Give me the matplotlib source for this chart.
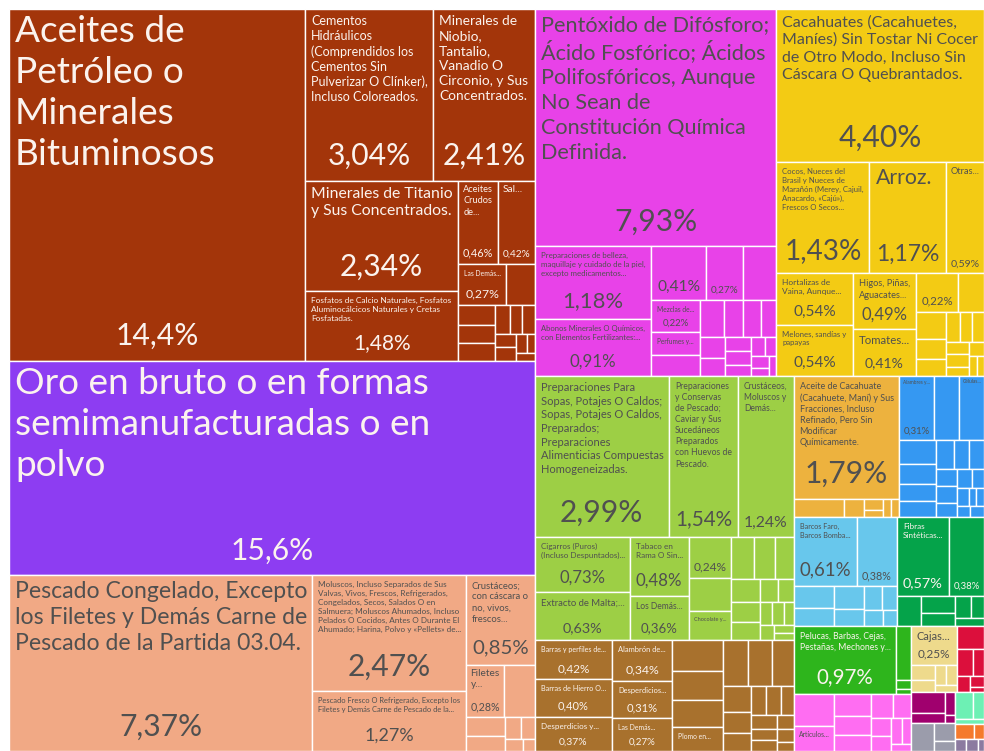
import matplotlib
matplotlib.use("Agg")
import matplotlib.pyplot as plt
from matplotlib.patches import Rectangle

plt.rcParams['font.family'] = ['Lato', 'DejaVu Sans']

# ---- data: shares of exports (%) per section, products sorted by size ----
# None = no label, "" = only the percentage
minerales_values = [14.4, 3.04, 2.41, 2.34, 1.48, 0.46, 0.42, 0.27, 0.16, 0.10,
                    0.09, 0.09, 0.06, 0.05, 0.05, 0.04, 0.04, 0.03, 0.02, 0.02]
minerales_names = ["Aceites de\nPetróleo o\nMinerales\nBituminosos",
                   "Cementos\nHidráulicos\n(Comprendidos los\nCementos Sin\nPulverizar O Clínker),\nIncluso Coloreados.",
                   "Minerales de\nNiobio,\nTantalio,\nVanadio O\nCirconio, y Sus\nConcentrados.",
                   "Minerales de Titanio\ny Sus Concentrados.",
                   "Fosfatos de Calcio Naturales, Fosfatos\nAluminocálcicos Naturales y Cretas\nFosfatadas.",
                   "Aceites\nCrudos\nde...", "Sal...", "Las Demás..."]

oro_values = [15.6]
oro_names = ["Oro en bruto o en formas\nsemimanufacturadas o en\npolvo"]

animales_values = [7.37, 2.47, 1.27, 0.85, 0.28, 0.22, 0.10, 0.08, 0.05, 0.04, 0.03, 0.02]
animales_names = ["Pescado Congelado, Excepto\nlos Filetes y Demás Carne de\nPescado de la Partida 03.04.",
                  "Moluscos, Incluso Separados de Sus\nValvas, Vivos, Frescos, Refrigerados,\nCongelados, Secos, Salados O en\nSalmuera; Moluscos Ahumados, Incluso\nPelados O Cocidos, Antes O Durante El\nAhumado; Harina, Polvo y «Pellets» de...",
                  "Pescado Fresco O Refrigerado, Excepto los\nFiletes y Demás Carne de Pescado de la...",
                  "Crustáceos;\ncon cáscara o\nno, vivos,\nfrescos...",
                  "Filetes\ny..."]

quimicos_values = [7.93, 1.18, 0.91, 0.41, 0.27, 0.25, 0.22, 0.16, 0.14, 0.12, 0.10, 0.09,
                   0.08, 0.07, 0.06, 0.05, 0.05, 0.04, 0.04, 0.03, 0.03, 0.02, 0.02]
quimicos_names = ["Pentóxido de Difósforo;\nÁcido Fosfórico; Ácidos\nPolifosfóricos, Aunque\nNo Sean de\nConstitución Química\nDefinida.",
                  "Preparaciones de belleza,\nmaquillaje y cuidado de la piel,\nexcepto medicamentos...",
                  "Abonos Minerales O Químicos,\ncon Elementos Fertilizantes:...",
                  "", "", None, "Mezclas de...", "Perfumes y...", ""]

vegetales_values = [4.40, 1.43, 1.17, 0.59, 0.54, 0.54, 0.49, 0.41, 0.22, 0.14, 0.11,
                    0.08, 0.07, 0.06, 0.05, 0.05, 0.04, 0.04, 0.03, 0.03, 0.02, 0.02]
vegetales_names = ["Cacahuates (Cacahuetes,\nManíes) Sin Tostar Ni Cocer\nde Otro Modo, Incluso Sin\nCáscara O Quebrantados.",
                   "Cocos, Nueces del\nBrasil y Nueces de\nMarañón (Merey, Cajuil,\nAnacardo, «Cajú»),\nFrescos O Secos...",
                   "Arroz.", "Otras...", "Hortalizas de\nVaina, Aunque...",
                   "Melones, sandías y\npapayas", "Higos, Piñas,\nAguacates...", "Tomates...", ""]

alimentos_values = [2.99, 1.54, 1.24, 0.73, 0.63, 0.48, 0.36, 0.24, 0.20, 0.17, 0.13, 0.12,
                    0.11, 0.09, 0.08, 0.07, 0.06, 0.05, 0.04, 0.04, 0.03, 0.03, 0.02, 0.02]
alimentos_names = ["Preparaciones Para\nSopas, Potajes O Caldos;\nSopas, Potajes O Caldos,\nPreparados;\nPreparaciones\nAlimenticias Compuestas\nHomogeneizadas.",
                   "Preparaciones\ny Conservas\nde Pescado;\nCaviar y Sus\nSucedáneos\nPreparados\ncon Huevos de\nPescado.",
                   "Crustáceos,\nMoluscos y\nDemás...",
                   "Cigarros (Puros)\n(Incluso Despuntados)...",
                   "Extracto de Malta;...", "Tabaco en\nRama O Sin...", "Los Demás...",
                   "", None, "Chocolate y..."]

metales_values = [0.42, 0.40, 0.37, 0.34, 0.31, 0.27, 0.22, 0.20, 0.19, 0.17, 0.16, 0.15, 0.14,
                  0.10, 0.08, 0.07, 0.06, 0.06, 0.05, 0.05, 0.04, 0.04, 0.03, 0.03, 0.02]
metales_names = ["Barras y perfiles de...", "Barras de Hierro O...", "Desperdicios y...",
                 "Alambrón de...", "Desperdicios...", "Las Demás...", None, None, None, "Plomo en..."]

grasas_values = [1.79, 0.13, 0.05, 0.03, 0.02, 0.02, 0.02]
grasas_names = ["Aceite de Cacahuate\n(Cacahuete, Maní) y Sus\nFracciones, Incluso\nRefinado, Pero Sin\nModificar\nQuímicamente."]

maquinas_values = [0.31, 0.23, 0.22, 0.12, 0.10, 0.09, 0.08, 0.07, 0.06, 0.06,
                   0.05, 0.05, 0.04, 0.04, 0.03, 0.03, 0.02, 0.02, 0.02, 0.02]
maquinas_names = ["Alambres y...", "", "Células..."]

transporte_values = [0.61, 0.38, 0.12, 0.10, 0.09, 0.07, 0.06, 0.05, 0.04, 0.03]
transporte_names = ["Barcos Faro,\nBarcos Bomba...", ""]

textiles_values = [0.57, 0.38, 0.10, 0.08, 0.06, 0.05, 0.04, 0.03]
textiles_names = ["Fibras\nSintéticas...", ""]

calzado_values = [0.97, 0.11, 0.02, 0.01]
calzado_names = ["Pelucas, Barbas, Cejas,\nPestañas, Mechones y..."]

miscelaneos_values = [0.18, 0.14, 0.11, 0.10, 0.08, 0.07, 0.06, 0.05, 0.04, 0.04, 0.03, 0.02]
miscelaneos_names = [None, "Artículos..."]

piedra_values = [0.25, 0.05, 0.04, 0.03, 0.03, 0.02]
piedra_names = ["Cajas..."]

plasticos_values = [0.09, 0.06, 0.04, 0.03, 0.02, 0.01]
papel_values = [0.10, 0.05, 0.03, 0.01]
instrumentos_values = [0.09, 0.05, 0.03]
madera_values = [0.07, 0.04, 0.02]
armas_values = [0.04, 0.02]
otros_values = [0.02, 0.02, 0.01]

sections = [
    ("Minerales", minerales_values, minerales_names),
    ("Metales preciosos", oro_values, oro_names),
    ("Productos animales", animales_values, animales_names),
    ("Productos químicos", quimicos_values, quimicos_names),
    ("Productos vegetales", vegetales_values, vegetales_names),
    ("Productos alimenticios", alimentos_values, alimentos_names),
    ("Metales", metales_values, metales_names),
    ("Grasas animales y vegetales", grasas_values, grasas_names),
    ("Máquinas", maquinas_values, maquinas_names),
    ("Transporte", transporte_values, transporte_names),
    ("Textiles", textiles_values, textiles_names),
    ("Calzado y sombreros", calzado_values, calzado_names),
    ("Misceláneos", miscelaneos_values, miscelaneos_names),
    ("Piedra y vidrio", piedra_values, piedra_names),
    ("Plásticos y cauchos", plasticos_values, []),
    ("Papel", papel_values, []),
    ("Instrumentos", instrumentos_values, []),
    ("Madera", madera_values, []),
    ("Armas", armas_values, []),
    ("Otros", otros_values, []),
]

colors = {
    "Minerales": "#A3350A", "Metales preciosos": "#8D3DF2", "Productos animales": "#F1A985",
    "Productos químicos": "#E842E8", "Productos vegetales": "#F3CB14",
    "Productos alimenticios": "#9DCF45", "Metales": "#A8712D",
    "Grasas animales y vegetales": "#EDB23E", "Máquinas": "#3598F2", "Transporte": "#68C7EC",
    "Textiles": "#05A34A", "Calzado y sombreros": "#2EB51C", "Misceláneos": "#FF6DF2",
    "Piedra y vidrio": "#EEDA8C", "Plásticos y cauchos": "#DC0F3C", "Papel": "#A0006E",
    "Instrumentos": "#9B9CAB", "Madera": "#6DF0B4", "Armas": "#F57A2C", "Otros": "#8C7AA0",
}

PHI = (1 + 5 ** 0.5) / 2
W, H = 975.0, 742.0


def squarify(values, x0, y0, x1, y1, ratio=PHI):
    # same row building as d3.treemapSquarify
    rects = []
    n = len(values)
    i0 = i1 = 0
    value = float(sum(values))
    while i0 < n:
        dx, dy = x1 - x0, y1 - y0
        sum_v = values[i1]
        i1 += 1
        min_v = max_v = sum_v
        alpha = max(dy / dx, dx / dy) / (value * ratio)
        beta = sum_v * sum_v * alpha
        min_ratio = max(max_v / beta, beta / min_v)
        while i1 < n:
            nv = values[i1]
            sum_v += nv
            min_v = min(min_v, nv)
            max_v = max(max_v, nv)
            beta = sum_v * sum_v * alpha
            new_ratio = max(max_v / beta, beta / min_v)
            if new_ratio > min_ratio:
                sum_v -= nv
                break
            min_ratio = new_ratio
            i1 += 1
        row = values[i0:i1]
        if dx < dy:
            y_next = y0 + dy * sum_v / value
            xx = x0
            for v in row:
                ww = dx * v / sum_v
                rects.append((xx, y0, xx + ww, y_next))
                xx += ww
            y0 = y_next
        else:
            x_next = x0 + dx * sum_v / value
            yy = y0
            for v in row:
                hh = dy * v / sum_v
                rects.append((x0, yy, x_next, yy + hh))
                yy += hh
            x0 = x_next
        value -= sum_v
        i0 = i1
    return rects


def fmt_pct(v):
    s = f"{v:.1f}" if v >= 10 else f"{v:.2f}"
    return s.replace(".", ",") + "%"


def text_color(hexcol):
    r, g, b = matplotlib.colors.to_rgb(hexcol)
    return "#FBF3EE" if 0.299 * r + 0.587 * g + 0.114 * b < 0.5 else "#505050"


fig = plt.figure(figsize=(9.84, 7.51), dpi=100)
ax = fig.add_axes([9 / 984, 0, W / 984, H / 751])
ax.set_xlim(0, W)
ax.set_ylim(H, 0)
ax.axis("off")
renderer = fig.canvas.get_renderer()

sections = sorted(sections, key=lambda s: -sum(s[1]))
totals = [sum(s[1]) for s in sections]
section_rects = squarify(totals, 0, 0, W, H)


def put_label(rect, name, pct, col):
    x0, y0, x1, y1 = rect
    w, h = x1 - x0, y1 - y0
    pad = min(6.0, 0.12 * w)
    show_pct = h >= 31 and w >= 26
    pct_px = 0
    if show_pct:
        pct_px = min(30.0, max(7.5, 0.3 * min(w, h)))
        t = ax.text((x0 + x1) / 2, y1 - 0.45 * pct_px - 2, pct, ha="center", va="baseline",
                    fontsize=pct_px * 0.72, color=col)
        bb = t.get_window_extent(renderer)
        if bb.width > w - 2 * pad:
            t.set_fontsize(t.get_fontsize() * (w - 2 * pad) / bb.width)
    if name:
        avail_w = w - 2 * pad
        avail_h = h - 2 * pad - (pct_px * 1.5 if show_pct else 0)
        if avail_h <= 4:
            return
        max_px = min(37.0, 0.28 * min(w, h))
        t = ax.text(x0 + pad, y0 + pad, name, ha="left", va="top", fontsize=10,
                    linespacing=1.3, color=col)
        bb = t.get_window_extent(renderer)
        fs = 10 * min(avail_w / bb.width, avail_h / bb.height)
        t.set_fontsize(max(min(fs, max_px * 0.72), 3.0))


for (sec, values, names), srect in zip(sections, section_rects):
    col = colors[sec]
    tcol = text_color(col)
    rects = squarify(values, *srect)
    for i, (v, r) in enumerate(zip(values, rects)):
        ax.add_patch(Rectangle((r[0], r[1]), r[2] - r[0], r[3] - r[1],
                               facecolor=col, edgecolor="white", linewidth=1.0))
        name = names[i] if i < len(names) else None
        if name is not None:
            put_label(r, name, fmt_pct(v), tcol)

fig.savefig("out.png", dpi=100, facecolor="white")
